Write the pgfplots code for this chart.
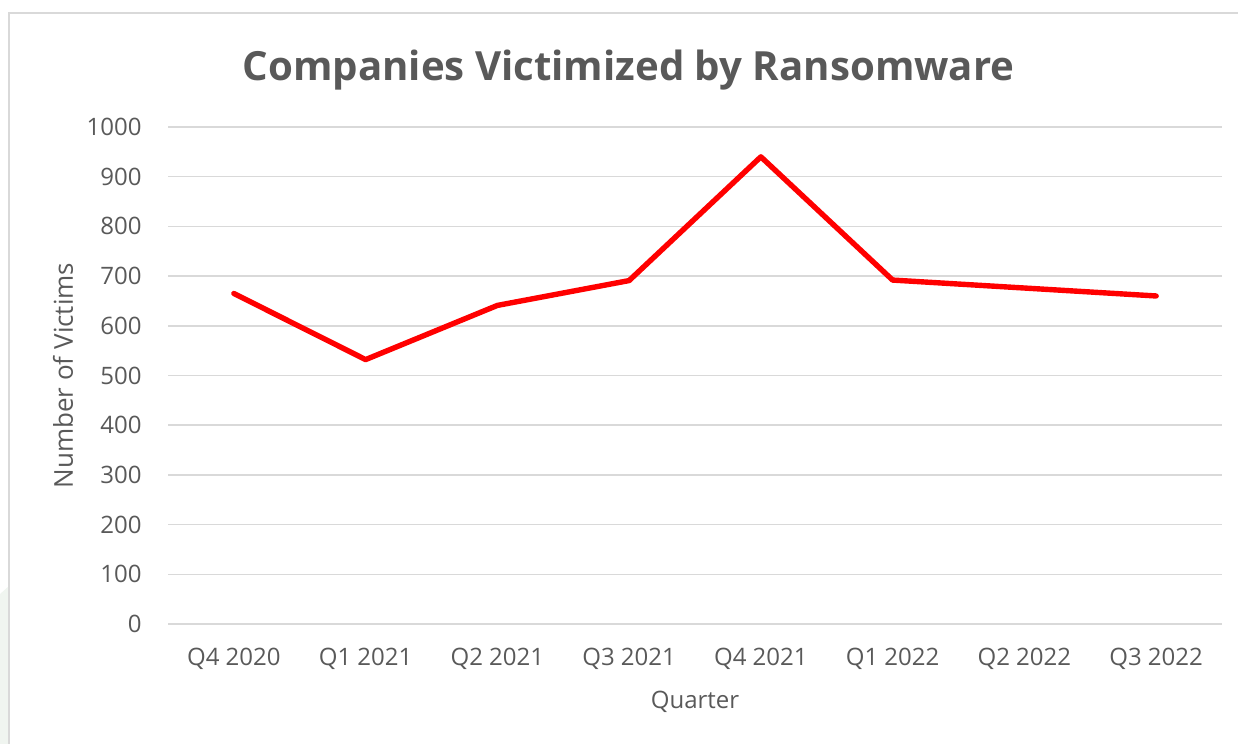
\documentclass[border=0pt]{standalone}
\usepackage{pgfplots}
\pgfplotsset{compat=1.18}
\usepackage{fontspec}
\setmainfont{Open Sans}
\definecolor{txt}{HTML}{595959}
\definecolor{gridc}{HTML}{D9D9D9}
\definecolor{framec}{HTML}{D9D9D9}
\begin{document}
\begin{tikzpicture}
\useasboundingbox (0,0) rectangle (619pt,372pt);
\fill[green!20!gray!10] (0,0) -- (0,75pt) -- (4.5pt,79pt) -- (4.5pt,0) -- cycle;
\draw[framec, line width=0.9pt] (4.5pt,-5pt) -- (4.5pt,365.5pt) -- (625pt,365.5pt);
\begin{axis}[
  at={(84pt,60pt)}, anchor=south west,
  scale only axis, width=527pt, height=248.5pt,
  xmin=-0.5, xmax=7.5, ymin=0, ymax=1000,
  xtick={0,...,7},
  xticklabels={Q4 2020,Q1 2021,Q2 2021,Q3 2021,Q4 2021,Q1 2022,Q2 2022,Q3 2022},
  ytick={0,100,...,1000},
  /pgf/number format/1000 sep={},
  axis line style={draw=none},
  major tick length=0pt,
  ymajorgrids, grid style={gridc, line width=0.75pt},
  tick label style={font=\fontsize{12}{14}\selectfont, text=txt},
  /pgf/number format/assume math mode=true,
  yticklabel style={anchor=east, inner sep=0pt, xshift=-13pt},
  xticklabel style={anchor=north, inner sep=0pt, yshift=-12pt},
  title={Companies Victimized by Ransomware},
  title style={at={(axis description cs:0.437,1.091)}, anchor=center, font=\fontsize{20.1}{24}\selectfont\bfseries, text=txt},
  xlabel={Quarter},
  xlabel style={at={(axis description cs:0.5,-0.157)}, anchor=center, font=\fontsize{12}{14}\selectfont, text=txt},
  ylabel={Number of Victims},
  ylabel style={at={(axis description cs:-0.0996,0.5)}, anchor=center, rotate=0, font=\fontsize{13}{15}\selectfont, text=txt},
  clip=false,
]
\addplot[color=red, line width=2.7pt, line join=round, line cap=round, mark=none] coordinates {
(0,665) (1,532) (2,641) (3,691) (4,940) (5,692) (6,676) (7,660)
};
\end{axis}
\end{tikzpicture}
\end{document}
